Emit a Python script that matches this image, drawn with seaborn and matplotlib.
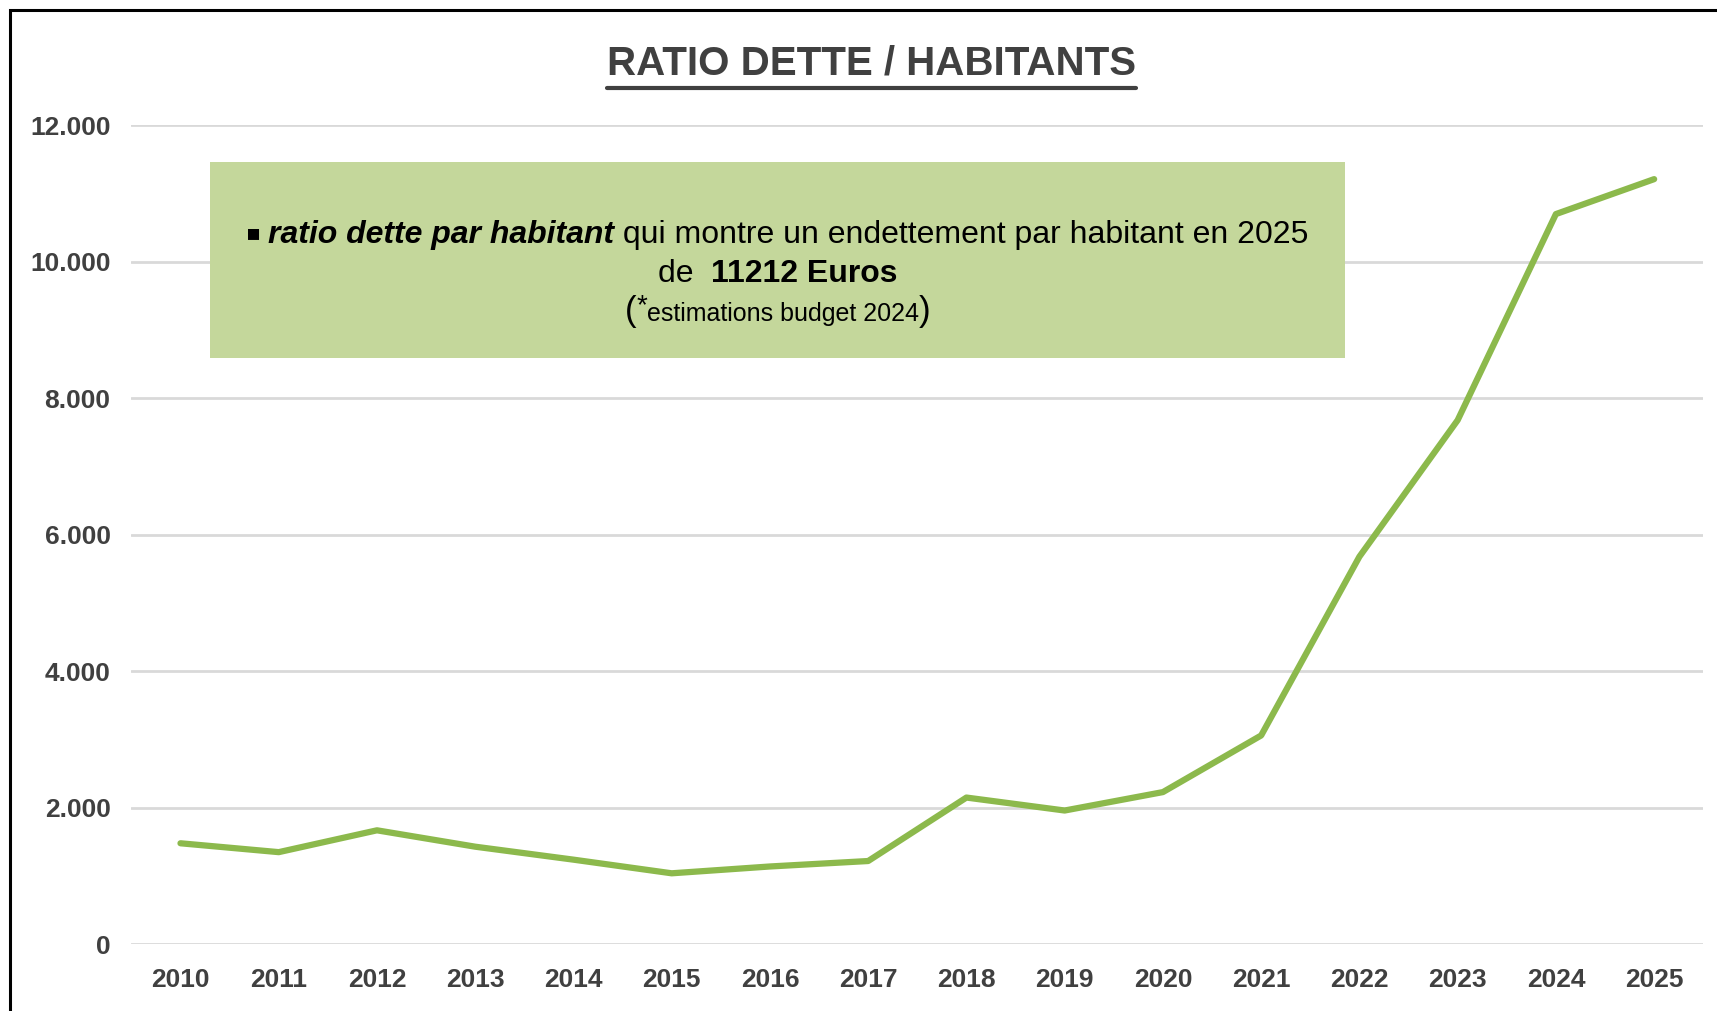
import numpy as np
import pandas as pd
import seaborn as sns
import matplotlib.pyplot as plt
from matplotlib.patches import Rectangle
from matplotlib.lines import Line2D
from matplotlib.ticker import FuncFormatter

# data
years = ['2010', '2011', '2012', '2013', '2014', '2015', '2016', '2017',
         '2018', '2019', '2020', '2021', '2022', '2023', '2024', '2025']
ratio = [1480, 1350, 1670, 1430, 1240, 1040, 1140, 1220,
         2150, 1960, 2230, 3060, 5680, 7680, 10700, 11212]
y_ticks = [0, 2000, 4000, 6000, 8000, 10000, 12000]

df = pd.DataFrame({'year': years, 'ratio': ratio})

sns.set_theme(style='white')
plt.rcParams['font.family'] = ['Liberation Sans', 'DejaVu Sans']

fig = plt.figure(figsize=(17.17, 10.11), dpi=100)
ax = fig.add_axes([0.0765, 0.066, 0.9155, 0.81])

line_green = '#8cb94c'
box_green = '#c4d79b'
grey_txt = '#404040'

sns.lineplot(data=df, x='year', y='ratio', color=line_green, linewidth=4.5,
             solid_capstyle='round', solid_joinstyle='round', sort=False, ax=ax)

ax.set_xlim(-0.5, len(years) - 0.5)
ax.set_ylim(0, 12000)
ax.set_yticks(y_ticks)
ax.yaxis.set_major_formatter(FuncFormatter(lambda v, p: f"{int(v):,}".replace(',', '.')))
ax.grid(axis='y', color='#d9d9d9', linewidth=2)
ax.grid(axis='x', visible=False)
ax.set_axisbelow(True)
for s in ax.spines.values():
    s.set_visible(False)
ax.tick_params(axis='both', length=0, labelsize=19, labelcolor=grey_txt)
ax.tick_params(axis='x', pad=17)
ax.tick_params(axis='y', pad=15)
for lab in ax.get_xticklabels() + ax.get_yticklabels():
    lab.set_fontweight('bold')
ax.set_xlabel('')
ax.set_ylabel('')

# title
title = fig.text(0.5075, 0.937, 'RATIO DETTE / HABITANTS', ha='center', va='center',
                 fontsize=29, fontweight='bold', color=grey_txt)

# green annotation box
box_x, box_y, box_w, box_h = 0.1223, 0.646, 0.661, 0.194
fig.patches.append(Rectangle((box_x, box_y), box_w, box_h, transform=fig.transFigure,
                             facecolor=box_green, edgecolor='none', zorder=5))

fig.canvas.draw()
r = fig.canvas.get_renderer()
W, H = fig.bbox.width, fig.bbox.height


def centered_row(pieces, xc, y):
    # pieces: list of (text, kwargs, dy); laid out left to right, centered on xc
    texts = []
    total = 0.0
    for txt, kw, dy in pieces:
        t = fig.text(0, y + dy, txt, ha='left', va='baseline', zorder=6, color='black', **kw)
        texts.append(t)
        total += t.get_window_extent(r).width / W
    x = xc - total / 2
    for t in texts:
        t.set_x(x)
        x += t.get_window_extent(r).width / W
    return texts


xc = box_x + box_w / 2
centered_row([('▪ ', dict(fontsize=16, family=['DejaVu Sans']), 0.003),
              ('ratio dette par habitant', dict(fontsize=23, fontweight='bold', style='italic'), 0),
              (' qui montre un endettement par habitant en 2025', dict(fontsize=23), 0)],
             xc, 0.760)
centered_row([('de  ', dict(fontsize=23), 0),
              ('11212 Euros', dict(fontsize=23, fontweight='bold'), 0)],
             xc, 0.721)
centered_row([('(', dict(fontsize=25), 0),
              ('*', dict(fontsize=20), 0.008),
              ('estimations budget 2024', dict(fontsize=18), 0),
              (')', dict(fontsize=25), 0)],
             xc, 0.682)

# underline for title and frame around the figure
tb = title.get_window_extent(r)
uy = (tb.y0 - 5) / H
fig.lines.append(Line2D([tb.x0 / W, tb.x1 / W], [uy, uy], transform=fig.transFigure,
                        color=grey_txt, linewidth=3))
fig.patches.append(Rectangle((0.006, -0.05), 1.2, 1.04, transform=fig.transFigure,
                             facecolor='none', edgecolor='black', linewidth=2.2))

fig.savefig('out.png', dpi=100)
